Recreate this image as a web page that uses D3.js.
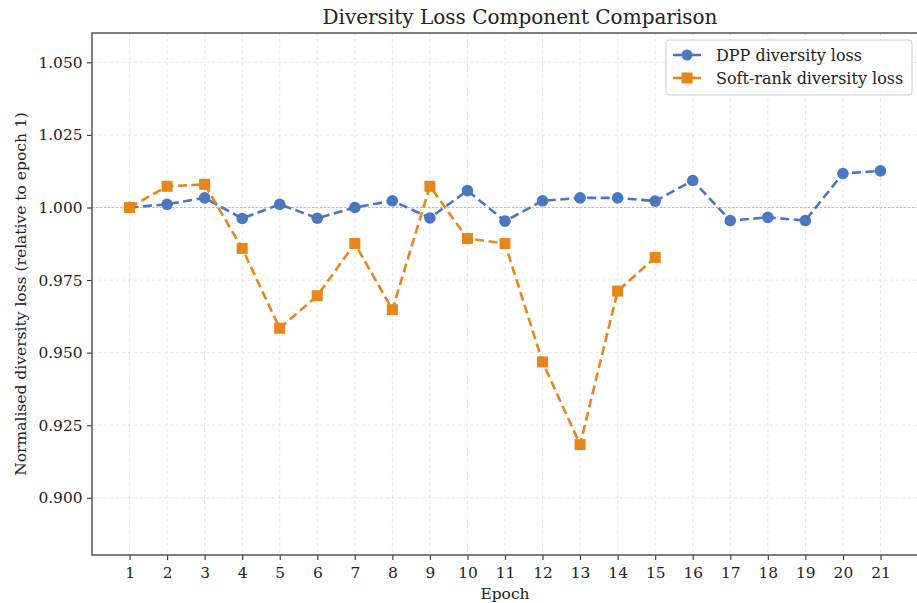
<!DOCTYPE html>
<html><head><meta charset="utf-8">
<script src="https://cdn.jsdelivr.net/npm/d3@7"></script>
<style>body{margin:0;background:#fff;} text{font-family:"DejaVu Serif",serif;fill:#222;}</style>
</head><body>
<svg id="c" width="917" height="603"></svg>
<script>
const epochs = [1,2,3,4,5,6,7,8,9,10,11,12,13,14,15,16,17,18,19,20,21];
const dppLoss = [1.000,1.0011,1.0033,0.9962,1.0011,0.9963,1.0000,1.0023,0.9964,1.0058,0.9953,1.0023,1.0033,1.0033,1.0022,1.0093,0.9955,0.9966,0.9955,1.0117,1.0126];
const softEpochs = [1,2,3,4,5,6,7,8,9,10,11,12,13,14,15];
const softLoss = [1.000,1.0073,1.0080,0.9859,0.9584,0.9696,0.9876,0.9648,1.0073,0.9893,0.9876,0.9468,0.9183,0.9712,0.9828];
const yTicks = [0.900,0.925,0.950,0.975,1.000,1.025,1.050];
const seriesNames = ["DPP diversity loss","Soft-rank diversity loss"];
const colors = ["#4a77bf","#e6861b"];

const svg = d3.select("#c");
const L=92,R=918,T=33,B=555;
const x = d3.scaleLinear().domain([0,22]).range([L,R]);
const y = d3.scaleLinear().domain([0.8803,1.0601]).range([B,T]);

// grid
const g = svg.append("g");
g.selectAll(".gx").data(epochs).enter().append("line")
 .attr("x1",d=>x(d)).attr("x2",d=>x(d)).attr("y1",T).attr("y2",B)
 .attr("stroke","#ddd").attr("stroke-width",0.8).attr("stroke-dasharray","3,3");
g.selectAll(".gy").data(yTicks).enter().append("line")
 .attr("x1",L).attr("x2",R).attr("y1",d=>y(d)).attr("y2",d=>y(d))
 .attr("stroke","#ddd").attr("stroke-width",0.8).attr("stroke-dasharray","3,3");
// reference line at 1
svg.append("line").attr("x1",L).attr("x2",R).attr("y1",y(1)).attr("y2",y(1))
 .attr("stroke","#bbb").attr("stroke-width",1.2).attr("stroke-dasharray","2,2");

// axes
const xa = svg.append("g").attr("transform",`translate(0,${B})`)
 .call(d3.axisBottom(x).tickValues(epochs).tickFormat(d3.format("d")).tickSize(5).tickSizeOuter(0));
const ya = svg.append("g").attr("transform",`translate(${L},0)`)
 .call(d3.axisLeft(y).tickValues(yTicks).tickFormat(d3.format(".3f")).tickSize(5).tickSizeOuter(0));
[xa,ya].forEach(a=>{a.select(".domain").remove();a.selectAll("line").attr("stroke","#444").attr("stroke-width",1.2);
 a.selectAll("text").style("font-family","DejaVu Serif").style("font-size","15.4px").attr("fill","#333");});
xa.selectAll("text").attr("dy","0.95em");
ya.selectAll("text").attr("dx","-0.1em");
svg.append("rect").attr("x",L).attr("y",T).attr("width",R-L).attr("height",B-T)
 .attr("fill","none").attr("stroke","#555").attr("stroke-width",1.5);

// lines
const line = d3.line().x(d=>x(d[0])).y(d=>y(d[1]));
const dppData = epochs.map((e,i)=>[e,dppLoss[i]]);
const softData = softEpochs.map((e,i)=>[e,softLoss[i]]);
svg.append("path").datum(dppData).attr("d",line).attr("fill","none").attr("stroke",colors[0])
 .attr("stroke-width",2.6).attr("stroke-dasharray","9,4.5");
svg.selectAll(".dp").data(dppData).enter().append("circle")
 .attr("cx",d=>x(d[0])).attr("cy",d=>y(d[1])).attr("r",5.8).attr("fill",colors[0]);
svg.append("path").datum(softData).attr("d",line).attr("fill","none").attr("stroke",colors[1])
 .attr("stroke-width",2.6).attr("stroke-dasharray","9,4.5");
svg.selectAll(".sp").data(softData).enter().append("rect")
 .attr("x",d=>x(d[0])-5.5).attr("y",d=>y(d[1])-5.5).attr("width",11).attr("height",11).attr("fill",colors[1]);

// title/labels
svg.append("text").attr("x",(L+R)/2+15).attr("y",24).attr("text-anchor","middle")
 .style("font-size","20px").text("Diversity Loss Component Comparison");
svg.append("text").attr("x",(L+R)/2).attr("y",599).attr("text-anchor","middle")
 .style("font-size","15.5px").text("Epoch");
svg.append("text").attr("transform",`translate(26,${(T+B)/2}) rotate(-90)`).attr("text-anchor","middle")
 .style("font-size","15.5px").text("Normalised diversity loss (relative to epoch 1)");

// legend
const lg = svg.append("g");
lg.append("rect").attr("x",666).attr("y",40).attr("width",246).attr("height",55).attr("rx",3)
 .attr("fill","#fff").attr("fill-opacity",0.85).attr("stroke","#ccc");
seriesNames.forEach((n,i)=>{
  const yy = 55+i*23;
  lg.append("line").attr("x1",673).attr("x2",701).attr("y1",yy).attr("y2",yy).attr("stroke",colors[i]).attr("stroke-width",2.6);
  if(i===0) lg.append("circle").attr("cx",687).attr("cy",yy).attr("r",5.5).attr("fill",colors[i]);
  else lg.append("rect").attr("x",681.5).attr("y",yy-5.5).attr("width",11).attr("height",11).attr("fill",colors[i]);
  lg.append("text").attr("x",716).attr("y",yy+5.5).style("font-size","16px").text(n);
});
</script>
</body></html>
